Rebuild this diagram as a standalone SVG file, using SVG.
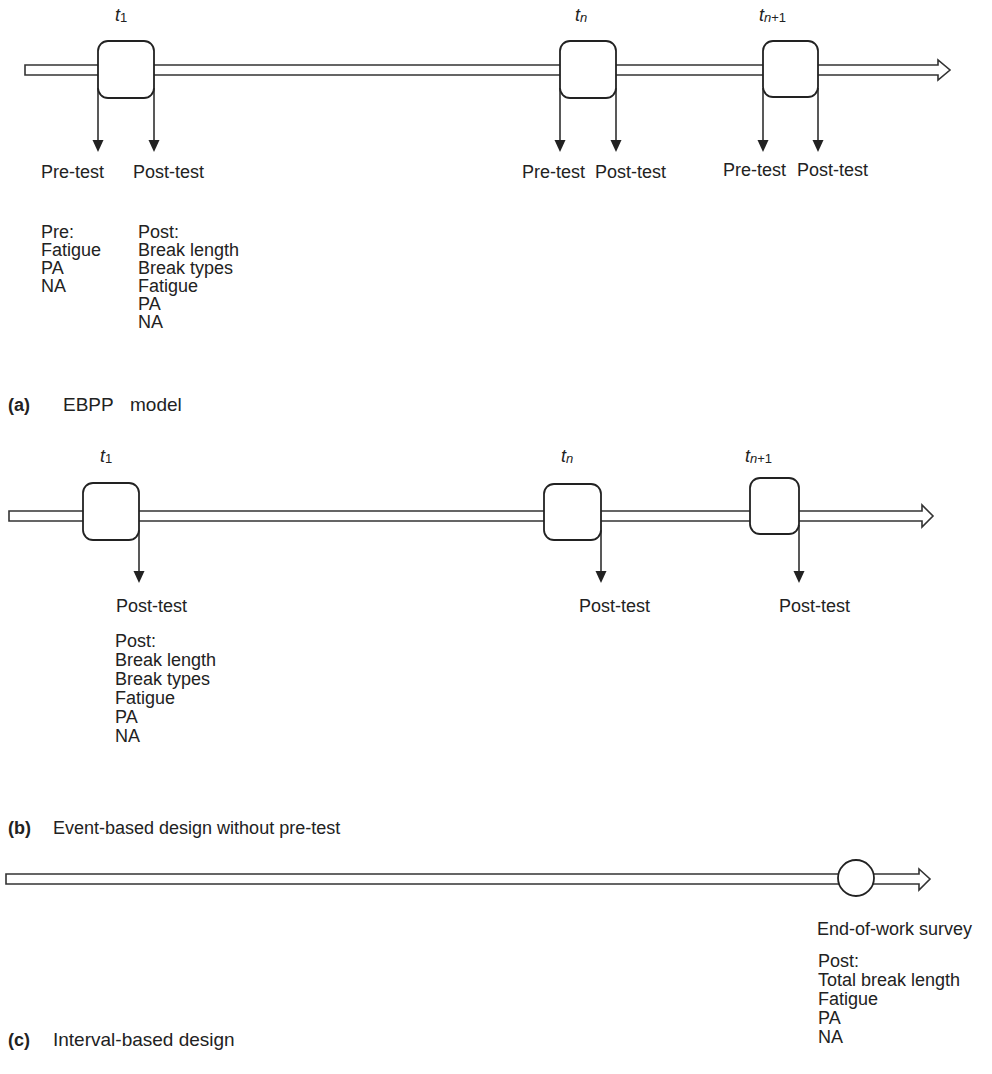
<svg xmlns="http://www.w3.org/2000/svg" width="992" height="1074" viewBox="0 0 992 1074">
<defs>
<style>
text{font-family:"Liberation Sans",Arial,sans-serif;font-size:18px;fill:#222}
.cap{font-weight:bold;font-size:18px}
.ti{font-style:italic}
.sub{font-size:13px;font-style:normal}
.subi{font-size:13px;font-style:italic}
.band{fill:#fff;stroke:#333;stroke-width:1.6;stroke-linejoin:miter}
.box{fill:#fff;stroke:#222;stroke-width:1.8}
.conn{stroke:#222;stroke-width:1.5;fill:none}
.head{fill:#222}
</style>
</defs>
<rect width="992" height="1074" fill="#fff"/>

<!-- (a) -->
<g id="a-timeline">
<path class="band" d="M25,65 L938,65 L938,60 L950,70 L938,80 L938,75 L25,75 Z"/>
</g>
<g id="a-connectors">
<line class="conn" x1="98" y1="88" x2="98" y2="141"/>
<path class="head" d="M92.5,140 L103.5,140 L98,152 Z"/>
<line class="conn" x1="154" y1="88" x2="154" y2="141"/>
<path class="head" d="M148.5,140 L159.5,140 L154,152 Z"/>
<line class="conn" x1="560" y1="88" x2="560" y2="141"/>
<path class="head" d="M554.5,140 L565.5,140 L560,152 Z"/>
<line class="conn" x1="616" y1="88" x2="616" y2="141"/>
<path class="head" d="M610.5,140 L621.5,140 L616,152 Z"/>
<line class="conn" x1="763" y1="88" x2="763" y2="141"/>
<path class="head" d="M757.5,140 L768.5,140 L763,152 Z"/>
<line class="conn" x1="818" y1="88" x2="818" y2="141"/>
<path class="head" d="M812.5,140 L823.5,140 L818,152 Z"/>
</g>
<g id="a-t1">
<rect class="box" x="98" y="41" width="56" height="57" rx="10"/>
<text x="115" y="21" class="ti">t<tspan class="sub" dy="1">1</tspan></text>
</g>
<g id="a-tn">
<rect class="box" x="560" y="41" width="56" height="57" rx="10"/>
<text x="575" y="21" class="ti">t<tspan class="subi" dy="1">n</tspan></text>
</g>
<g id="a-tn1">
<rect class="box" x="763" y="41" width="55" height="56" rx="10"/>
<text x="759" y="21" class="ti">t<tspan class="subi" dy="1">n</tspan><tspan class="sub">+1</tspan></text>
</g>
<g id="a-labels">
<text x="41" y="178">Pre-test</text>
<text x="133" y="178">Post-test</text>
<text x="522" y="178">Pre-test</text>
<text x="595" y="178">Post-test</text>
<text x="723" y="176">Pre-test</text>
<text x="797" y="176">Post-test</text>
</g>
<g id="a-pre-list">
<text x="41" y="238">Pre:</text>
<text x="41" y="256">Fatigue</text>
<text x="41" y="274">PA</text>
<text x="41" y="292">NA</text>
</g>
<g id="a-post-list">
<text x="138" y="238">Post:</text>
<text x="138" y="256">Break length</text>
<text x="138" y="274">Break types</text>
<text x="138" y="292">Fatigue</text>
<text x="138" y="310">PA</text>
<text x="138" y="328">NA</text>
</g>
<g id="a-caption">
<text x="8" y="411" class="cap">(a)</text>
<text x="63" y="411" style="font-size:19px">EBPP</text>
<text x="130" y="411" style="font-size:19px">model</text>
</g>

<!-- (b) -->
<g id="b-timeline">
<path class="band" d="M9,511 L922,511 L922,505 L933,516 L922,527 L922,521 L9,521 Z"/>
</g>
<g id="b-connectors">
<line class="conn" x1="139" y1="530" x2="139" y2="572"/>
<path class="head" d="M133.5,571 L144.5,571 L139,583 Z"/>
<line class="conn" x1="601" y1="530" x2="601" y2="572"/>
<path class="head" d="M595.5,571 L606.5,571 L601,583 Z"/>
<line class="conn" x1="799" y1="525" x2="799" y2="572"/>
<path class="head" d="M793.5,571 L804.5,571 L799,583 Z"/>
</g>
<g id="b-t1">
<rect class="box" x="83" y="483" width="56" height="57" rx="10"/>
<text x="100" y="462" class="ti">t<tspan class="sub" dy="1">1</tspan></text>
</g>
<g id="b-tn">
<rect class="box" x="544" y="484" width="57" height="56" rx="10"/>
<text x="561" y="462" class="ti">t<tspan class="subi" dy="1">n</tspan></text>
</g>
<g id="b-tn1">
<rect class="box" x="750" y="478" width="49" height="56" rx="10"/>
<text x="745" y="462" class="ti">t<tspan class="subi" dy="1">n</tspan><tspan class="sub">+1</tspan></text>
</g>
<g id="b-labels">
<text x="116" y="612">Post-test</text>
<text x="579" y="612">Post-test</text>
<text x="779" y="612">Post-test</text>
</g>
<g id="b-post-list">
<text x="115" y="647">Post:</text>
<text x="115" y="666">Break length</text>
<text x="115" y="685">Break types</text>
<text x="115" y="704">Fatigue</text>
<text x="115" y="723">PA</text>
<text x="115" y="742">NA</text>
</g>
<g id="b-caption">
<text x="8" y="834" class="cap">(b)</text>
<text x="53" y="834">Event-based design without pre-test</text>
</g>

<!-- (c) -->
<g id="c-timeline">
<path class="band" d="M6,874 L919,874 L919,869 L930,879 L919,890 L919,884 L6,884 Z"/>
</g>
<g id="c-survey">
<circle class="box" cx="856" cy="878" r="18"/>
<text x="817" y="935">End-of-work survey</text>
</g>
<g id="c-post-list">
<text x="818" y="967">Post:</text>
<text x="818" y="986">Total break length</text>
<text x="818" y="1005">Fatigue</text>
<text x="818" y="1024">PA</text>
<text x="818" y="1043">NA</text>
</g>
<g id="c-caption">
<text x="8" y="1046" class="cap">(c)</text>
<text x="53" y="1046" style="font-size:19px">Interval-based design</text>
</g>
</svg>
